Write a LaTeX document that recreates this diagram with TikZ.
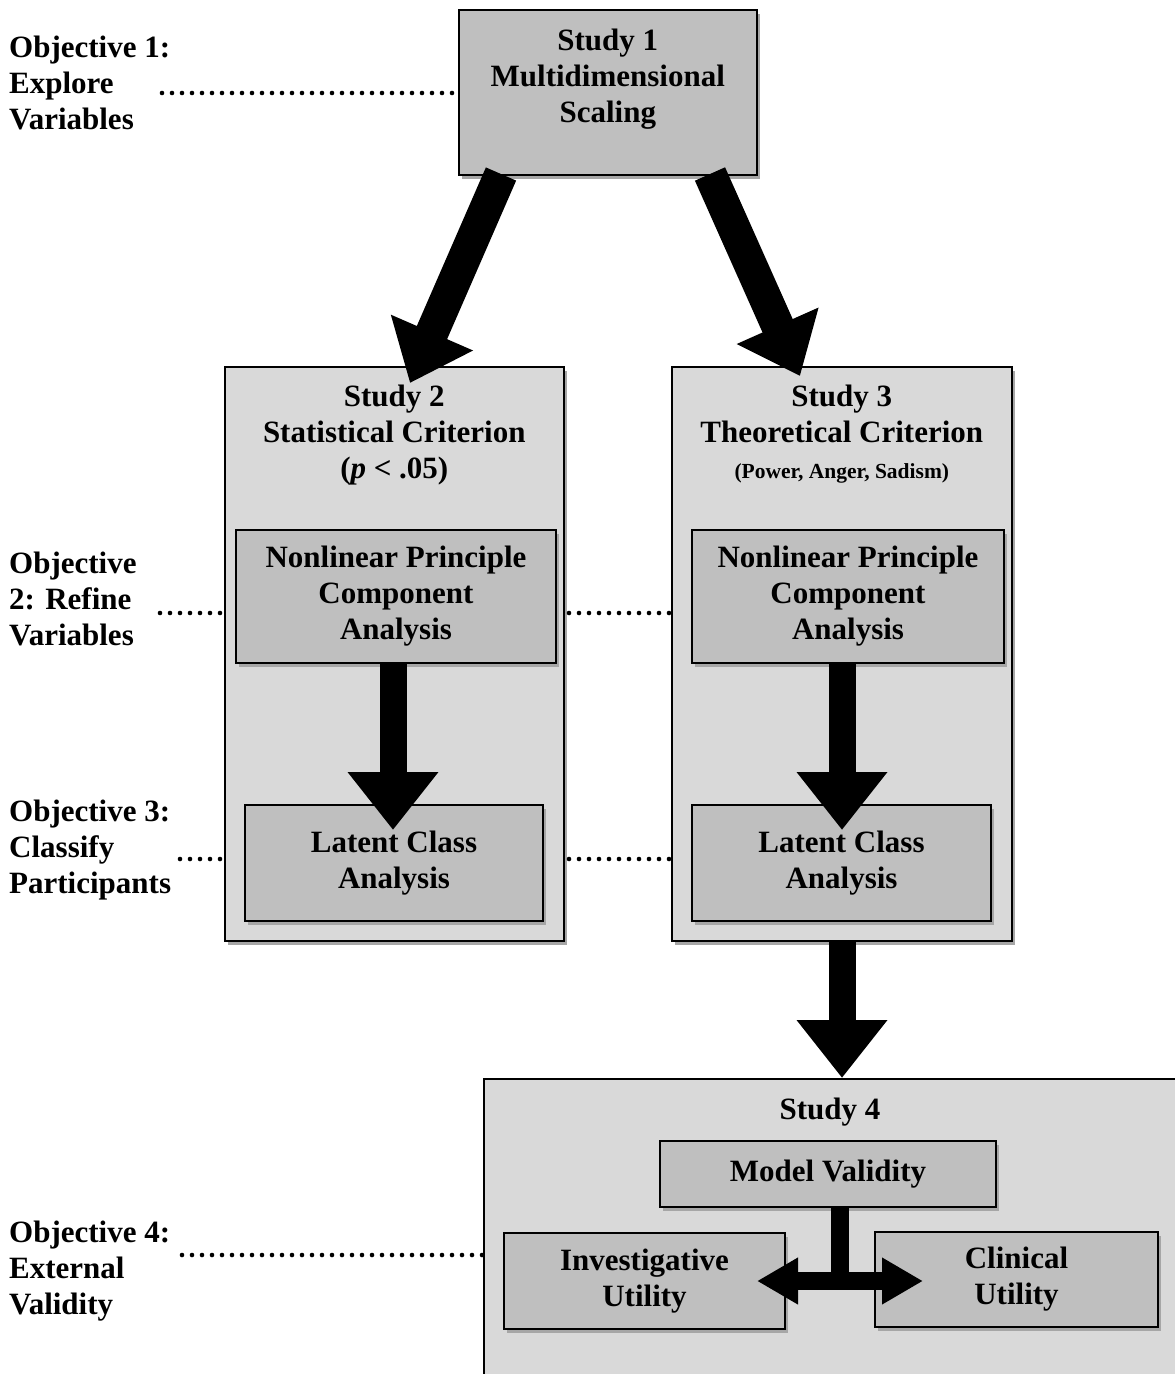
\documentclass[tikz,border=0pt]{standalone}
\usepackage{fontspec}
\setmainfont{Liberation Serif}
\usetikzlibrary{positioning,arrows.meta,shadows}

\definecolor{panelgray}{HTML}{D9D9D9}
\definecolor{boxgray}{HTML}{BFBFBF}
\definecolor{shadegray}{HTML}{A6A6A6}

\tikzset{
  panel/.style={draw, line width=1.6pt, fill=panelgray, anchor=north west,
    drop shadow={shadow xshift=3pt, shadow yshift=-4pt, fill=shadegray, opacity=1}},
  stepbox/.style={draw, line width=1.6pt, fill=boxgray, align=center,
    drop shadow={shadow xshift=3pt, shadow yshift=-4pt, fill=shadegray, opacity=1}},
  title/.style={align=center, inner sep=0pt},
  objective/.style={align=left, inner sep=0pt, anchor=north west},
  dotline/.style={line width=4.6pt, line cap=round, dash pattern=on 0pt off 10pt},
  fatarrow/.style={line width=27pt, -{Triangle[width=87pt, length=58pt]}},
  slantarrow/.style={line width=33pt, -{Triangle[width=86pt, length=55pt]}},
  splitarrow/.style={line width=18pt, {Triangle[width=44pt, length=41pt]}-{Triangle[width=44pt, length=41pt]}}
}

\begin{document}
\begin{tikzpicture}[x=1pt, y=-1pt, font=\bfseries\fontsize{31}{36}\selectfont]
  \useasboundingbox (0,0) rectangle (1175,1374);

  % Study 1
  \node[panel, fill=boxgray, minimum width=298pt, minimum height=165pt] (s1) at (458,9) {};
  \node[title, below=20pt of s1.north] (s1t) {Study 1\\Multidimensional\\Scaling};

  % Study 2 and Study 3 panels
  \node[panel, minimum width=339pt, minimum height=574pt] (s2) at (224,366) {};
  \node[title, below=19pt of s2.north] (s2t) {Study 2\\Statistical Criterion\\(\textit{p} < .05)};
  \node[panel, minimum width=340pt, minimum height=574pt] (s3) at (671,366) {};
  \node[title, below=19pt of s3.north] (s3t) {Study 3\\Theoretical Criterion\\{\fontsize{21.5}{26}\selectfont (Power, Anger, Sadism)}};

  \node[stepbox, minimum width=320pt, minimum height=133pt] (s2a) at (396,596.5) {Nonlinear Principle\\Component\\Analysis};
  \node[stepbox, minimum width=298pt, minimum height=116pt] (s2b) at (394,863) {Latent Class\\Analysis};
  \node[stepbox, minimum width=312pt, minimum height=133pt] (s3a) at (848,596.5) {Nonlinear Principle\\Component\\Analysis};
  \node[stepbox, minimum width=299pt, minimum height=116pt] (s3b) at (841.5,863) {Latent Class\\Analysis};

  % Study 4
  \node[panel, minimum width=720pt, minimum height=330pt] (s4) at (483,1078) {};
  \node[title, anchor=north] (s4t) at (830,1098) {Study 4};
  \node[stepbox, minimum width=336pt, minimum height=66pt] (mv) at (828,1174) {Model Validity};
  \node[stepbox, minimum width=281pt, minimum height=96pt] (iu) at (644.5,1281) {Investigative\\Utility};
  \node[stepbox, minimum width=283pt, minimum height=95pt] (cu) at (1016.5,1279.5) {Clinical\\Utility};

  % Objectives
  \node[objective] (o1) at (9,36) {Objective 1:\\Explore\\Variables};
  \node[objective] (o2) at (9,552) {Objective\\2: Refine\\Variables};
  \node[objective] (o3) at (9,800) {Objective 3:\\Classify\\Participants};
  \node[objective] (o4) at (9,1221) {Objective 4:\\External\\Validity};

  \coordinate (d1) at (162,93);
  \coordinate (d2) at (160,613);
  \coordinate (d2m) at (569,613);
  \coordinate (d3) at (180,859);
  \coordinate (d3m) at (569,859);
  \coordinate (d4) at (182,1255);

  \draw[dotline] (d1) -- (s1.west |- d1);
  \draw[dotline] (d2) -- (d2 -| s2.west);
  \draw[dotline] (d2m) -- (d2m -| s3.west);
  \draw[dotline] (d3) -- (d3 -| s2.west);
  \draw[dotline] (d3m) -- (d3m -| s3.west);
  \draw[dotline] (d4) -- (d4 -| s4.west);

  % Arrows
  \coordinate (l1) at (501,174);
  \coordinate (l2) at (410,383);
  \coordinate (r1) at (710,174);
  \coordinate (r2) at (800,376);
  \draw[slantarrow] (l1) -- (l2);
  \draw[slantarrow] (r1) -- (r2);

  \coordinate (v2) at (393,830);
  \coordinate (v3) at (842,830);
  \coordinate (v4) at (842,1078);
  \draw[fatarrow] (s2a.south -| v2) -- (v2);
  \draw[fatarrow] (s3a.south -| v3) -- (v3);
  \draw[fatarrow] (s3.south -| v4) -- (v4);

  \coordinate (tj) at (840,1290);
  \coordinate (tl) at (757,1281);
  \coordinate (tr) at (923,1281);
  \draw[line width=18pt] (mv.south -| tj) -- (tj);
  \draw[splitarrow] (tl) -- (tr);
\end{tikzpicture}
\end{document}
